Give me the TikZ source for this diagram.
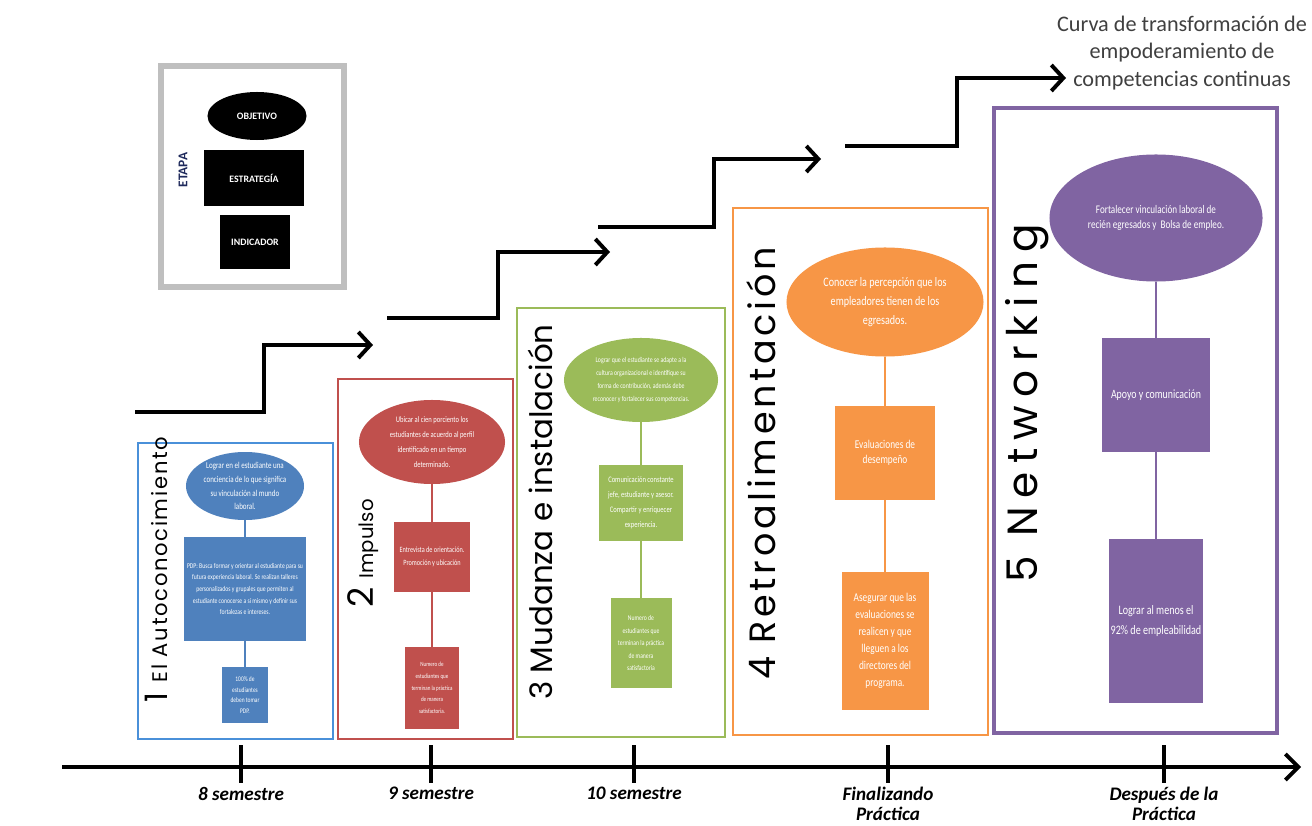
\documentclass[tikz,border=0pt]{standalone}
\usepackage{fontspec}
\setmainfont{Carlito}
\newfontfamily\narrowfont[FakeStretch=0.78]{Carlito}
\newfontfamily\stagefont{Poppins}
\usetikzlibrary{shapes.geometric,arrows.meta,positioning}

\definecolor{azul}{HTML}{4F81BD}
\definecolor{azulm}{HTML}{4A90D9}
\definecolor{rojo}{HTML}{C0504D}
\definecolor{verde}{HTML}{9BBB59}
\definecolor{naranja}{HTML}{F79646}
\definecolor{morado}{HTML}{8064A2}
\definecolor{grisleyenda}{HTML}{BFBFBF}
\definecolor{gristitulo}{HTML}{404040}
\definecolor{marino}{HTML}{1F2A5C}

\begin{document}
\begin{tikzpicture}[
    x=0.025cm, y=-0.025cm,
    obj/.style={ellipse, fill=#1, text=white, inner sep=0pt, align=center},
    caja/.style={rectangle, fill=#1, text=white, inner sep=0pt, align=center},
    letra/.style 2 args={font=\narrowfont\fontsize{#1}{#2}\selectfont},
    marco/.style={draw=#1, line width=1.4pt},
    enlace/.style={draw=#1, line width=1.3pt},
    etapa/.style={rotate=90, anchor=base west, inner sep=0pt},
    escalon/.style={line width=2.8pt, -{Straight Barb[length=3mm, width=6.5mm]}},
    marca/.style={line width=2.2pt},
    semestre/.style={anchor=north, inner sep=0pt, align=center, font=\bfseries\itshape\fontsize{13.6}{13.8}\selectfont},
    leyenda/.style={fill=black, text=white, inner sep=0pt, font=\bfseries\fontsize{7}{8}\selectfont}
]
\useasboundingbox (0,0) rectangle (1312,826);
\fill[white] (0,0) rectangle (1312,826);

% leyenda
\draw[grisleyenda, line width=4.3pt] (161,66) rectangle (344,287);
\node[leyenda, ellipse, minimum width=2.475cm, minimum height=1.2cm] (lobj) at (257,116) {OBJETIVO};
\node[leyenda, minimum width=2.5cm, minimum height=1.375cm] (lest) at (254,178) {ESTRATEGÍA};
\node[leyenda, minimum width=1.725cm, minimum height=1.325cm] (lind) at (255,242) {INDICADOR};
\node[rotate=90, text=marino, font=\bfseries\fontsize{9.5}{10}\selectfont] (letapa) at (183,170) {ETAPA};

% escalones
\draw[escalon] (135,412) -- (264,412) -- (264,345) -- (373,345);
\draw[escalon] (387,318) -- (498,318) -- (498,252) -- (610,252);
\draw[escalon] (598,227) -- (714,227) -- (714,159) -- (821,159);
\draw[escalon] (845,146) -- (957,146) -- (957,78) -- (1066,78);

\node[text=gristitulo, align=center, font=\fontsize{15.8}{19.8}\selectfont] (titulo) at (1182,53)
    {Curva de transformación de\\empoderamiento de\\competencias continuas};

% etapa 1
\draw[marco=azulm] (138,443) rectangle (333,739);
\node[etapa, font=\stagefont\addfontfeature{LetterSpace=8}] (n1) at (167,703)
    {{\fontsize{22}{22}\selectfont 1\ }{\fontsize{15}{15}\selectfont El Autoconocimiento}};
\node[obj=azul, minimum width=2.95cm, minimum height=1.65cm, letra={6.4}{9.9}] (e1) at (245,486)
    {Lograr en el estudiante una\\conciencia de lo que significa\\su vinculación al mundo\\laboral.};
\node[caja=azul, minimum width=3.05cm, minimum height=2.575cm, letra={5.2}{8.3}] (s1) at (245,589)
    {PDP: Busca formar y orientar al estudiante para su\\futura experiencia laboral. Se realizan talleres\\personalizados y grupales que permiten al\\estudiante conocerse a sí mismo y definir sus\\fortalezas e intereses.};
\node[caja=azul, minimum width=1.15cm, minimum height=1.4cm, letra={5}{7.4}] (i1) at (245,695)
    {100\% de\\estudiantes\\deben tomar\\PDP.};
\draw[enlace=azul] (e1) -- (s1) (s1) -- (i1);

% etapa 2
\draw[marco=rojo] (338,379) rectangle (513,739);
\node[etapa, font=\stagefont] (n2) at (373,608)
    {{\fontsize{25}{25}\selectfont 2\ }{\fontsize{14}{14}\selectfont Impulso}};
\node[obj=rojo, minimum width=3.65cm, minimum height=2.1cm, letra={6}{10.6}] (e2) at (432,442)
    {Ubicar al cien porciento los\\estudiantes de acuerdo al perfil\\identificado en un tiempo\\determinado.};
\node[caja=rojo, minimum width=1.9cm, minimum height=1.75cm, letra={5.7}{9.2}] (s2) at (432,557)
    {Entrevista de orientación.\\Promoción y ubicación};
\node[caja=rojo, minimum width=1.35cm, minimum height=2.05cm, letra={4.6}{8.3}] (i2) at (432,688)
    {Numero de\\estudiantes que\\terminan la práctica\\de manera\\satisfactoria.};
\draw[enlace=rojo] (e2) -- (s2) (s2) -- (i2);

% etapa 3
\draw[marco=verde] (517,308) rectangle (725,737);
\node[etapa, font=\stagefont\fontsize{22}{22}\selectfont] (n3) at (552,700) {3 Mudanza e instalación};
\node[obj=verde, minimum width=3.85cm, minimum height=2.1cm, letra={5.3}{9.2}] (e3) at (641,380)
    {Lograr que el estudiante se adapte a la\\cultura organizacional e identifique su\\forma de contribución, además debe\\reconocer y fortalecer sus competencias.};
\node[caja=verde, minimum width=2.1cm, minimum height=1.875cm, letra={6}{10.6}] (s3) at (641,503)
    {Comunicación constante\\jefe, estudiante y asesor.\\Compartir y enriquecer\\experiencia.};
\node[caja=verde, minimum width=1.525cm, minimum height=2.25cm, letra={5.2}{8.9}] (i3) at (641,643)
    {Numero de\\estudiantes que\\terminan la práctica\\de manera\\satisfactoria};
\draw[enlace=verde] (e3) -- (s3) (s3) -- (i3);

% etapa 4
\draw[marco=naranja] (733,208) rectangle (988,735);
\node[etapa, font=\stagefont\addfontfeature{LetterSpace=10}\fontsize{26}{26}\selectfont] (n4) at (775,680) {4 Retroalimentación};
\node[obj=naranja, minimum width=4.925cm, minimum height=2.725cm, letra={9.2}{13.5}] (e4) at (885,302)
    {Conocer la percepción que los\\empleadores tienen de los\\egresados.};
\node[caja=naranja, minimum width=2.5cm, minimum height=2.35cm, letra={8.5}{11}] (s4) at (885,453)
    {Evaluaciones de\\desempeño};
\node[caja=naranja, minimum width=2.175cm, minimum height=3.45cm, letra={8.5}{12}] (i4) at (885,641)
    {Asegurar que las\\evaluaciones se\\realicen y que\\lleguen a los\\directores del\\programa.};
\draw[enlace=naranja] (e4) -- (s4) (s4) -- (i4);

% etapa 5
\draw[morado, line width=2.6pt] (994,108) rectangle (1277,733);
\node[etapa, font=\stagefont\addfontfeature{LetterSpace=20}\fontsize{30}{30}\selectfont] (n5) at (1037,583) {5 Networking};
\node[obj=morado, minimum width=5.325cm, minimum height=3.175cm, letra={8.3}{10.6}] (e5) at (1156,218)
    {Fortalecer vinculación laboral de\\recién egresados y \ Bolsa de empleo.};
\node[caja=morado, minimum width=2.7cm, minimum height=2.825cm, letra={9}{11}] (s5) at (1156,395)
    {Apoyo y comunicación};
\node[caja=morado, minimum width=2.35cm, minimum height=4.1cm, letra={9.2}{14}] (i5) at (1156,621)
    {Lograr al menos el\\92\% de empleabilidad};
\draw[enlace=morado] (e5) -- (s5) (s5) -- (i5);

% eje de tiempo
\coordinate (ejeA) at (62,767);
\coordinate (ejeB) at (1301,767);
\draw[line width=2.8pt, -{Straight Barb[length=3.2mm, width=6.5mm]}] (ejeA) -- (ejeB);
\foreach \x/\txt [count=\i] in {241/{8 semestre}, 431/{9 semestre}, 634/{10 semestre},
    888/{Finalizando\\Práctica}, 1164/{Después de la\\Práctica}} {
  \draw[marca] (\x,745) -- (\x,783);
  \node[semestre] (sem\i) at (\x,787) {\txt};
}
\end{tikzpicture}
\end{document}
